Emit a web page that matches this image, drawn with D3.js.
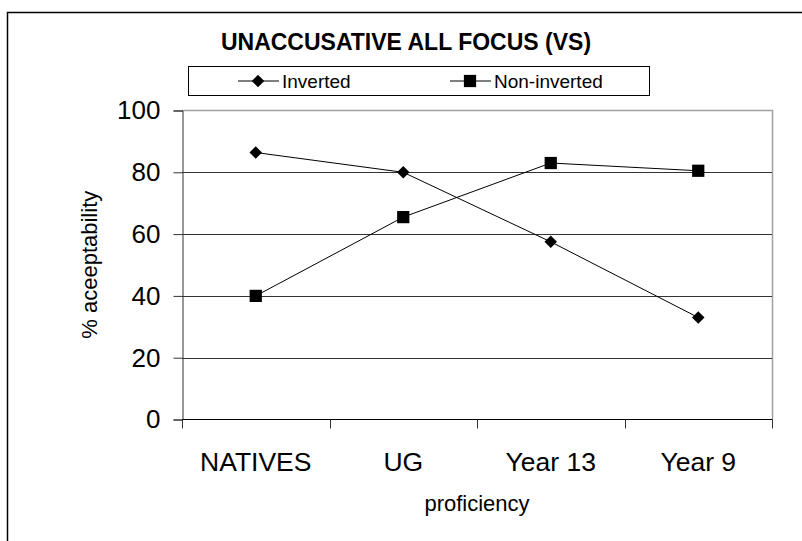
<!DOCTYPE html>
<html>
<head>
<meta charset="utf-8">
<script src="https://cdn.jsdelivr.net/npm/d3@7/dist/d3.min.js"></script>
<style>
    body { margin: 0; background: #fff; }
    text { font-family: "Liberation Sans", Arial, sans-serif; fill: #000; }
</style>
</head>
<body>
<div id="chart"></div>
<script>
const categories = ['NATIVES', 'UG', 'Year 13', 'Year 9'];
const inverted = [86.4, 80, 57.5, 33];
const nonInverted = [40, 65.5, 83, 80.5];
const yTicks = [0, 20, 40, 60, 80, 100];

const width = 802, height = 541;
const plot = {left: 182, top: 110, right: 772, bottom: 419.5};

const svg = d3.select('#chart').append('svg')
    .attr('width', width)
    .attr('height', height);

// outer frame
svg.append('rect')
    .attr('x', 7.5).attr('y', 12.5)
    .attr('width', 800).attr('height', 540)
    .attr('fill', 'none').attr('stroke', '#000').attr('stroke-width', 1.5);

const x = d3.scaleBand().domain(categories).range([plot.left, plot.right]).padding(0);
const y = d3.scaleLinear().domain([0, 100]).range([plot.bottom, plot.top + 0.5]);
const cx = c => x(c) + x.bandwidth() / 2;

// plot area border (top / right)
svg.append('path')
    .attr('d', `M${plot.left},${plot.top + 0.5}H${plot.right + 0.5}V${plot.bottom}`)
    .attr('fill', 'none').attr('stroke', '#a0a0a0').attr('stroke-width', 1.5);

// gridlines
svg.append('g').selectAll('line')
    .data(yTicks.filter(d => d > 0 && d < 100))
    .join('line')
    .attr('x1', plot.left).attr('x2', plot.right)
    .attr('y1', d => Math.round(y(d)) + 0.5).attr('y2', d => Math.round(y(d)) + 0.5)
    .attr('stroke', '#333').attr('stroke-width', 1);

// y axis
const yAxis = svg.append('g')
    .attr('transform', `translate(${plot.left + 0.5},0)`)
    .call(d3.axisLeft(y).tickValues(yTicks).tickSize(9).tickPadding(13));
yAxis.select('.domain').attr('stroke', '#333');
yAxis.selectAll('.tick line').attr('stroke', '#333');
yAxis.selectAll('.tick text')
    .attr('font-size', 26)
    .attr('font-family', '"Liberation Sans", Arial, sans-serif')
    .attr('fill', '#000');

// x axis: ticks on category boundaries
const xg = svg.append('g');
xg.append('line')
    .attr('x1', plot.left).attr('x2', plot.right + 0.5)
    .attr('y1', plot.bottom).attr('y2', plot.bottom)
    .attr('stroke', '#000');
const bounds = categories.map(c => x(c)).concat([plot.right]);
xg.selectAll('.xtick')
    .data(bounds)
    .join('line')
    .attr('class', 'xtick')
    .attr('x1', d => Math.round(d) + 0.5).attr('x2', d => Math.round(d) + 0.5)
    .attr('y1', plot.bottom).attr('y2', plot.bottom + 9)
    .attr('stroke', '#333');
xg.selectAll('.xlabel')
    .data(categories)
    .join('text')
    .attr('class', 'xlabel')
    .attr('x', d => cx(d))
    .attr('y', 471)
    .attr('text-anchor', 'middle')
    .attr('font-size', 26.5)
    .text(d => d);

// axis titles
svg.append('text')
    .attr('x', (plot.left + plot.right) / 2)
    .attr('y', 511)
    .attr('text-anchor', 'middle')
    .attr('font-size', 22)
    .text('proficiency');
svg.append('text')
    .attr('transform', `translate(97,${(plot.top + plot.bottom) / 2}) rotate(-90)`)
    .attr('text-anchor', 'middle')
    .attr('font-size', 22)
    .text('% aceeptability');

// title
svg.append('text')
    .attr('x', 406)
    .attr('y', 50)
    .attr('text-anchor', 'middle')
    .attr('font-size', 23)
    .attr('font-weight', 'bold')
    .text('UNACCUSATIVE ALL FOCUS (VS)');

const diamond = d3.symbol().type(d3.symbolDiamond2).size(100);
const square = d3.symbol().type(d3.symbolSquare).size(150);

const series = [
    {name: 'Inverted', values: inverted, symbol: diamond},
    {name: 'Non-inverted', values: nonInverted, symbol: square}
];

const line = d3.line()
    .x((d, i) => cx(categories[i]))
    .y(d => y(d));

series.forEach(s => {
    svg.append('path')
        .datum(s.values)
        .attr('d', line)
        .attr('fill', 'none')
        .attr('stroke', '#000')
        .attr('stroke-width', 1);
    svg.append('g').selectAll('path')
        .data(s.values)
        .join('path')
        .attr('d', s.symbol)
        .attr('transform', (d, i) => `translate(${cx(categories[i])},${y(d)})`)
        .attr('fill', '#000');
});

// legend
const legend = svg.append('g');
legend.append('rect')
    .attr('x', 188.5).attr('y', 66.5)
    .attr('width', 461).attr('height', 29)
    .attr('fill', '#fff').attr('stroke', '#000');
const legendItems = [
    {x: 238, series: series[0]},
    {x: 450, series: series[1]}
];
legendItems.forEach(item => {
    const ly = 81;
    legend.append('line')
        .attr('x1', item.x).attr('x2', item.x + 41)
        .attr('y1', ly).attr('y2', ly)
        .attr('stroke', '#000').attr('stroke-width', 1);
    legend.append('path')
        .attr('d', item.series.symbol)
        .attr('transform', `translate(${item.x + 20},${ly})`)
        .attr('fill', '#000');
    legend.append('text')
        .attr('x', item.x + 44)
        .attr('y', ly + 7)
        .attr('font-size', 19)
        .text(item.series.name);
});
</script>
</body>
</html>
